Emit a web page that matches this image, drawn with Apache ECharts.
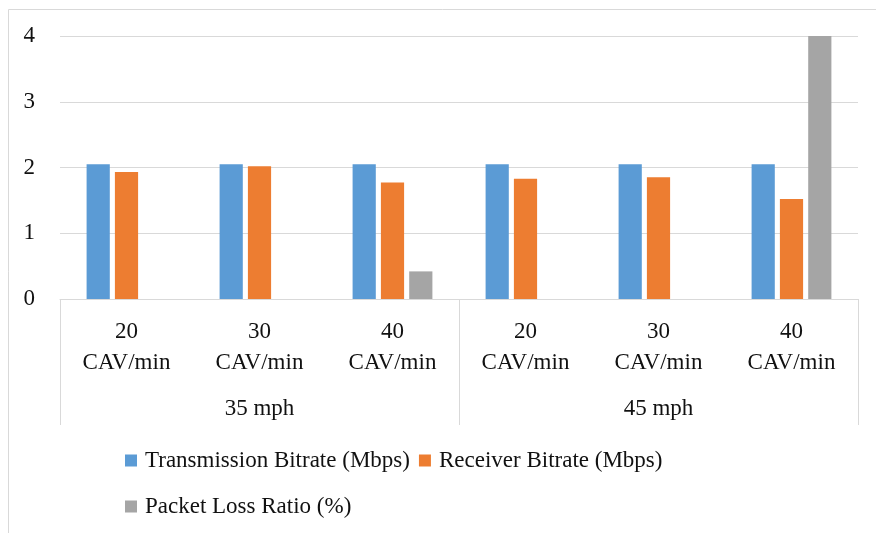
<!DOCTYPE html>
<html>
<head>
<meta charset="utf-8">
<script src="https://cdn.jsdelivr.net/npm/echarts@6/dist/echarts.min.js"></script>
<style>
  html, body { margin: 0; padding: 0; background: #fff; }
  #chart { width: 876px; height: 533px; }
</style>
</head>
<body>
<div id="chart"></div>
<script>
// chart data
const rateLabels = ['20\nCAV/min', '30\nCAV/min', '40\nCAV/min', '20\nCAV/min', '30\nCAV/min', '40\nCAV/min']
const speedLabels = ['35 mph', '45 mph']
const seriesNames = ['Transmission Bitrate (Mbps)', 'Receiver Bitrate (Mbps)', 'Packet Loss Ratio (%)']
const transmission = [2.05, 2.05, 2.05, 2.05, 2.05, 2.05]
const receiver = [1.93, 2.02, 1.77, 1.83, 1.85, 1.52]
const packetLoss = [0, 0, 0.42, 0, 0, 4.0]

const color = ['#5B9BD5', '#ED7D31', '#A5A5A5']
const font = 'Liberation Serif, Times New Roman, serif'
const lineColor = '#d9d9d9'
const fontSize = 23

const chart = echarts.init(document.getElementById('chart'))

const legendText = {
  color: '#111',
  fontSize: fontSize,
  fontFamily: font,
  padding: [0, 0, 0, 3]
}

let option = {
  color: color,
  animation: false,
  graphic: [{
    type: 'rect',
    shape: { x: 8.5, y: 9.5, width: 900, height: 600 },
    style: { fill: 'none', stroke: lineColor, lineWidth: 1 },
    silent: true
  }],
  grid: {
    left: 60,
    right: 18,
    top: 36,
    bottom: 234
  },
  legend: [{
    data: [seriesNames[0], seriesNames[1]],
    left: 120,
    top: 444,
    icon: 'rect',
    itemWidth: 12,
    itemHeight: 12,
    itemGap: 9,
    textStyle: legendText
  }, {
    data: [seriesNames[2]],
    left: 120,
    top: 490,
    icon: 'rect',
    itemWidth: 12,
    itemHeight: 12,
    textStyle: legendText
  }],
  xAxis: [{
    type: 'category',
    data: rateLabels,
    position: 'bottom',
    axisLine: { show: true, lineStyle: { color: lineColor, width: 1 } },
    axisTick: { show: false },
    axisLabel: {
      interval: 0,
      margin: 17,
      color: '#111',
      fontSize: fontSize,
      lineHeight: 31,
      fontFamily: font
    }
  }, {
    type: 'category',
    data: speedLabels,
    position: 'bottom',
    offset: 126,
    axisLine: { show: false },
    axisTick: {
      show: true,
      inside: true,
      length: 126,
      lineStyle: { color: lineColor, width: 1 }
    },
    axisLabel: {
      inside: true,
      margin: 5,
      color: '#111',
      fontSize: fontSize,
      fontFamily: font
    }
  }],
  yAxis: {
    type: 'value',
    min: 0,
    max: 4,
    interval: 1,
    axisLine: { show: false },
    axisTick: { show: false },
    axisLabel: {
      margin: 25,
      color: '#111',
      fontSize: fontSize,
      fontFamily: font
    },
    splitLine: {
      show: true,
      lineStyle: { color: lineColor, width: 1 }
    }
  },
  series: [
    {
      name: seriesNames[0],
      type: 'bar',
      barCategoryGap: '40%',
      barGap: '22%',
      data: transmission
    },
    {
      name: seriesNames[1],
      type: 'bar',
      barCategoryGap: '40%',
      barGap: '22%',
      data: receiver
    },
    {
      name: seriesNames[2],
      type: 'bar',
      barCategoryGap: '40%',
      barGap: '22%',
      data: packetLoss
    }
  ]
}

chart.setOption(option)
</script>
</body>
</html>
